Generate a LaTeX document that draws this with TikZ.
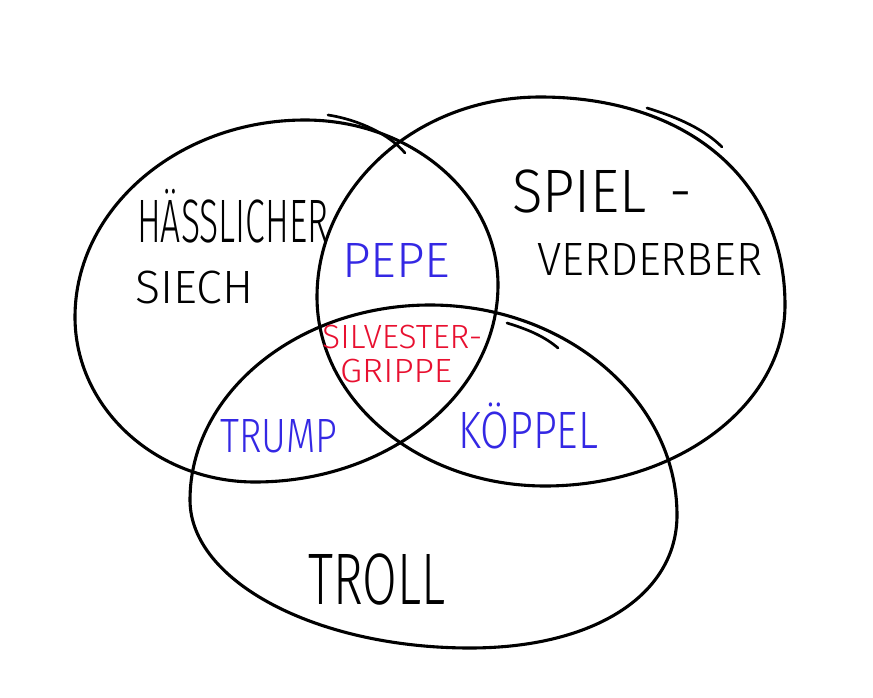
\documentclass[tikz,border=0pt]{standalone}
\usepackage{fontspec}
\usepackage{graphicx}
\IfFontExistsTF{Fira Sans Light}{\setmainfont{Fira Sans Light}}{\setmainfont{Fira Sans}}
\definecolor{hwblue}{RGB}{52,40,228}
\definecolor{hwred}{RGB}{232,16,48}
\newcommand{\hwtext}[3]{\resizebox{#1pt}{#2pt}{\vphantom{H}\smash{#3}}}
\tikzset{
  setline/.style={line width=3.1pt, line cap=round, line join=round},
  overstroke/.style={line width=2.7pt, line cap=round},
  lbl/.style={inner sep=0pt, anchor=base west},
}
\begin{document}
\begin{tikzpicture}[x=1pt,y=-1pt]
\useasboundingbox (0,0) rectangle (873,698);
\fill[white] (0,0) rectangle (873,698);

% left set
\draw[setline] (75,317) .. controls (75,209) and (178,120) .. (305,120)
  .. controls (411,120) and (498,194) .. (498,285)
  .. controls (498,393) and (389,482) .. (255,482)
  .. controls (156,482) and (75,408) .. (75,317);
% right set
\draw[setline] (317,297) .. controls (317,187) and (417,97) .. (540,97)
  .. controls (687,97) and (785,180) .. (785,305)
  .. controls (785,405) and (677,486) .. (545,486)
  .. controls (420,486) and (317,401) .. (317,297);
% bottom set
\draw[setline] (190,500) .. controls (190,393) and (298,305) .. (430,305)
  .. controls (566,305) and (677,400) .. (677,515)
  .. controls (677,595) and (594,648) .. (470,648)
  .. controls (316,648) and (190,581) .. (190,500);

% sketchy overstrokes
\draw[overstroke] (328,115) .. controls (360,120) and (390,135) .. (405,153);
\draw[overstroke] (647,108) .. controls (680,118) and (705,130) .. (722,147);
\draw[overstroke] (507,323) .. controls (530,330) and (545,337) .. (558,348);

% labels
\node[lbl, text=black] (hs) at (137,242) {\hwtext{191}{42}{HÄSSLICHER}};
\node[lbl, text=black] (siech) at (135,303) {\hwtext{118}{32}{SIECH}};
\node[lbl, text=black] (spiel) at (512,212) {\hwtext{180}{42}{SPIEL\hspace{0.4em}-}};
\node[lbl, text=black] (verd) at (537,275) {\hwtext{225}{32}{VERDERBER}};
\node[lbl, text=hwblue] (pepe) at (342,277) {\hwtext{108}{34}{PEPE}};
\node[lbl, text=hwred] (silv) at (322,348) {\hwtext{160}{23}{SILVESTER-}};
\node[lbl, text=hwred] (grip) at (340,382) {\hwtext{112}{23}{GRIPPE}};
\node[lbl, text=hwblue] (trump) at (220,452) {\hwtext{117}{33}{TRUMP}};
\node[lbl, text=hwblue] (koep) at (458,448) {\hwtext{140}{36}{KÖPPEL}};
\node[lbl, text=black] (troll) at (308,604) {\hwtext{137}{50}{TROLL}};
\end{tikzpicture}
\end{document}
